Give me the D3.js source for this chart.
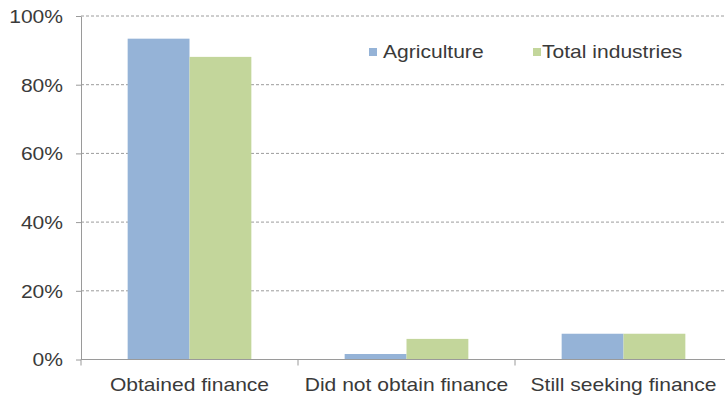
<!DOCTYPE html>
<html>
<head>
<meta charset="utf-8">
<script src="https://cdn.jsdelivr.net/npm/d3@7"></script>
<style>
  html, body { margin: 0; padding: 0; background: #fff; }
  svg { display: block; }
  text { font-family: "Liberation Sans", Arial, sans-serif; fill: #3a3a3a; }
</style>
</head>
<body>
<svg id="chart" width="725" height="401"></svg>
<script>
// Survey outcome of finance applications, share of businesses
const categories = ["Obtained finance", "Did not obtain finance", "Still seeking finance"];
const seriesNames = ["Agriculture", "Total industries"];
const agriculture = [93.4, 1.6, 7.5];
const totalIndustries = [88.1, 6.0, 7.5];
const yTicks = [0, 20, 40, 60, 80, 100];
const seriesColors = ["#95b3d7", "#c3d69b"];

const svg = d3.select("#chart");
const W = 725, H = 401;
const plotLeft = 81, plotRight = 732, plotTop = 16, plotBottom = 359.5;
const fontSize = 18, stretch = 1.17;

const rows = categories.map((c, i) => ({ cat: c, values: [agriculture[i], totalIndustries[i]] }));

const x = d3.scaleBand().domain(categories).range([plotLeft, plotRight]).paddingInner(0).paddingOuter(0);
const groupPad = 0.215;
const x1 = d3.scaleBand().domain(seriesNames)
  .range([x.bandwidth() * groupPad, x.bandwidth() * (1 - groupPad)]).padding(0);
const y = d3.scaleLinear().domain([0, 100]).range([plotBottom, plotTop]);

// dashed horizontal gridlines
svg.append("g")
  .selectAll("line")
  .data(yTicks.filter(d => d > 0))
  .join("line")
  .attr("x1", plotLeft).attr("x2", W)
  .attr("y1", d => y(d)).attr("y2", d => y(d))
  .attr("stroke", "#9c9c9c")
  .attr("stroke-width", 1)
  .attr("stroke-dasharray", "3,2");

// bars
const groups = svg.append("g")
  .selectAll("g")
  .data(rows)
  .join("g")
  .attr("transform", d => `translate(${x(d.cat)},0)`);

groups.selectAll("rect")
  .data(d => d.values.map((v, k) => ({ key: seriesNames[k], v, k })))
  .join("rect")
  .attr("x", d => x1(d.key))
  .attr("width", x1.bandwidth())
  .attr("y", d => y(d.v))
  .attr("height", d => y(0) - y(d.v))
  .attr("fill", d => seriesColors[d.k]);

// y axis
const yAxis = svg.append("g")
  .attr("transform", `translate(${plotLeft},0)`)
  .call(d3.axisLeft(y).tickValues(yTicks).tickFormat(d => d + "%").tickSize(5).tickSizeOuter(0));
yAxis.select(".domain").attr("stroke", "#9a9a9a");
yAxis.selectAll(".tick line").attr("stroke", "#9a9a9a");
yAxis.selectAll(".tick text")
  .attr("font-size", fontSize)
  .attr("x", -18 / stretch)
  .attr("dy", "0.36em")
  .attr("transform", `scale(${stretch},1)`);

// x axis
const xAxis = svg.append("g")
  .attr("transform", `translate(0,${plotBottom})`)
  .call(d3.axisBottom(x).tickSize(0).tickSizeOuter(0));
xAxis.select(".domain").attr("stroke", "#9a9a9a").attr("d", `M${plotLeft},0H${W}`);
xAxis.selectAll(".tick text")
  .attr("font-size", fontSize)
  .attr("x", 0)
  .attr("y", 32)
  .attr("dy", 0)
  .attr("transform", `scale(${stretch},1)`);

// category separator ticks on the x axis
svg.append("g")
  .selectAll("line")
  .data(categories)
  .join("line")
  .attr("x1", d => x(d)).attr("x2", d => x(d))
  .attr("y1", plotBottom).attr("y2", plotBottom + 6)
  .attr("stroke", "#9a9a9a");

// legend
const legendItems = [
  { name: seriesNames[0], color: seriesColors[0], sx: 369, tx: 383 },
  { name: seriesNames[1], color: seriesColors[1], sx: 533, tx: 542 }
];
const legend = svg.append("g").selectAll("g").data(legendItems).join("g");
legend.append("rect")
  .attr("x", d => d.sx).attr("y", 48)
  .attr("width", 8).attr("height", 8)
  .attr("fill", d => d.color);
legend.append("text")
  .attr("x", d => d.tx / stretch)
  .attr("y", 58.5)
  .attr("font-size", fontSize)
  .attr("transform", `scale(${stretch},1)`)
  .text(d => d.name);
</script>
</body>
</html>
